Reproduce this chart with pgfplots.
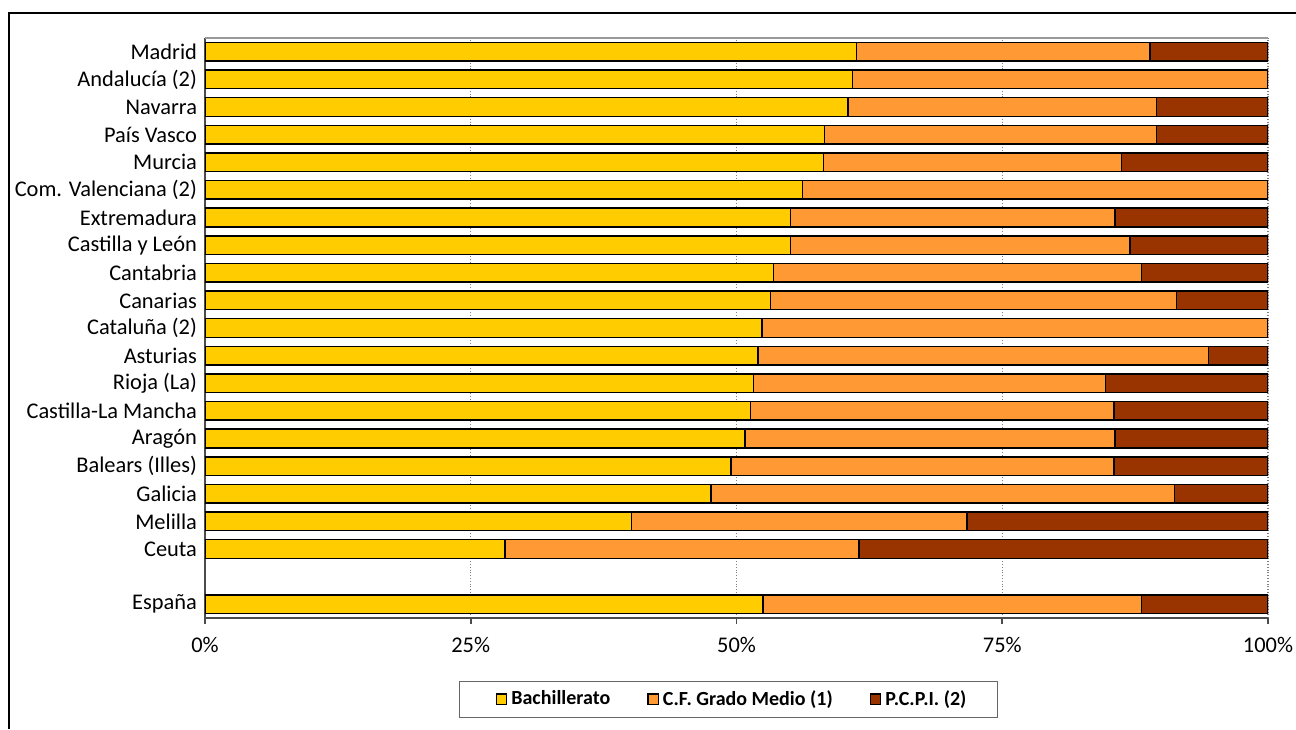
\documentclass[border=0pt]{standalone}
\usepackage{pgfplots}
\pgfplotsset{compat=1.18}
\usepackage{pgfplotstable}
\usepackage{fontspec}
\setmainfont{Carlito}

\definecolor{bach}{HTML}{FFCC00}
\definecolor{cfgm}{HTML}{FF9933}
\definecolor{pcpi}{HTML}{993300}

% pos 0 = España, 1 = hueco, 2..20 = comunidades
\pgfplotstableread{
pos bach cf   pcpi
20  61.3 27.6 11.1
19  60.9 39.1 0
18  60.5 29.0 10.5
17  58.3 31.2 10.5
16  58.2 28.0 13.8
15  56.2 43.8 0
14  55.1 30.5 14.4
13  55.1 31.9 13.0
12  53.5 34.6 11.9
11  53.2 38.2 8.6
10  52.4 47.6 0
9   52.0 42.4 5.6
8   51.6 33.1 15.3
7   51.3 34.2 14.5
6   50.8 34.8 14.4
5   49.5 36.0 14.5
4   47.6 43.6 8.8
3   40.1 31.6 28.3
2   28.2 33.3 38.5
0   52.5 35.6 11.9
}\datos

\begin{document}
\begin{tikzpicture}
\begin{axis}[
    at={(102.5pt,55.5pt)}, anchor=south west,
    scale only axis, width=531.5pt, height=290pt,
    xbar stacked, bar width=9.3pt,
    xmin=0, xmax=100, ymin=-0.5, ymax=20.5,
    axis x line*=bottom, axis y line*=left,
    axis line style={draw=black!70, line width=0.8pt},
    xtick={0,25,50,75,100},
    xticklabels={0\%,25\%,50\%,75\%,100\%},
    xtick style={draw=black!70, line width=0.8pt},
    tick align=outside, major tick length=3pt,
    xmajorgrids, major grid style={densely dotted, draw=black!50, line width=0.6pt},
    ytick={0,2,3,4,5,6,7,8,9,10,11,12,13,14,15,16,17,18,19,20},
    yticklabels={España,Ceuta,Melilla,Galicia,Balears (Illes),Aragón,Castilla-La Mancha,Rioja (La),Asturias,Cataluña (2),Canarias,Cantabria,Castilla y León,Extremadura,Com. Valenciana (2),Murcia,País Vasco,Navarra ,Andalucía (2),Madrid},
    ytick style={draw=none},
    yticklabel style={xshift=2.5pt},
    tick label style={font=\fontsize{11.2}{13}\selectfont},
    xticklabel style={yshift=-3pt},
    legend style={at={(0.4925,-0.14)}, anchor=center, legend columns=-1,
        draw=black!60, line width=0.6pt,
        font=\bfseries\fontsize{10}{12}\selectfont,
        inner xsep=13.5pt, inner ysep=2.5pt,
        /tikz/every even column/.append style={column sep=12pt}},
    legend image code/.code={\path (-4.5pt,0pt); \draw[#1, draw=black, line width=0.6pt] (0pt,-2.6pt) rectangle (5.2pt,2.6pt);},
]
\draw[black!40, line width=0.6pt] (axis cs:0,20.5) -- (axis cs:100,20.5);
\addplot[fill=bach, draw=black, line width=0.75pt] table[x=bach, y=pos] {\datos};
\addplot[fill=cfgm, draw=black, line width=0.75pt] table[x=cf, y=pos] {\datos};
\addplot[fill=pcpi, draw=black, line width=0.75pt] table[x=pcpi, y=pos] {\datos};
\legend{Bachillerato, C.F. Grado Medio (1), P.C.P.I. (2)}
\end{axis}
\draw[black, line width=0.75pt] (4.5pt,0pt) -- (4.5pt,358pt) -- (648pt,358pt);
\pgfresetboundingbox
\useasboundingbox (0pt,0pt) rectangle (648pt,364.5pt);
\end{tikzpicture}
\end{document}
